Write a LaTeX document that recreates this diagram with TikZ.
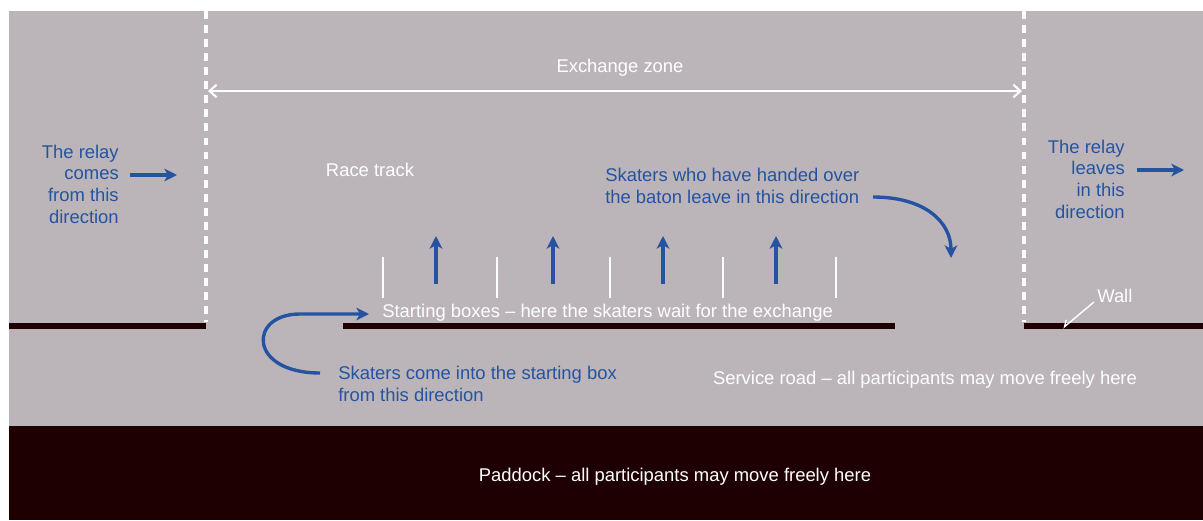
\documentclass[tikz,border=0pt]{standalone}
\usepackage{fontspec}
\setmainfont{Liberation Sans}
\usepackage{tikz}
\usetikzlibrary{positioning, arrows.meta, calc}
\usepackage{xcolor}
\definecolor{trackgray}{HTML}{BBB5B9}
\definecolor{paddockdark}{HTML}{1F0002}
\definecolor{relayblue}{HTML}{2553A2}

\begin{document}
\begin{tikzpicture}[
  x=0.025cm, y=-0.025cm,
  label_txt/.style={inner sep=0pt, font=\fontsize{13.1}{15.4}\selectfont},
  blue_txt/.style={label_txt, text=relayblue},
  white_txt/.style={label_txt, text=white},
  wall/.style={paddockdark, line width=3.6pt},
  zone_line/.style={white, line width=2.3pt, dash pattern=on 5.6pt off 4.4pt},
  box_line/.style={white, line width=1.9pt},
  arrow/.style={-{Stealth[length=9pt, width=9pt, inset=2.5pt]}, relayblue,
                line width=2.4pt},
]
  % Background
  \useasboundingbox (0,0) rectangle (1203,520);
  \fill[white] (0,0) rectangle (1203,520);
  \fill[trackgray] (9,11) rectangle (1203,426);
  \fill[paddockdark] (9,426) rectangle (1203,520);

  % Exchange zone limits
  \coordinate (zl_top) at (206,11);
  \coordinate (zl_bot) at (206,322);
  \coordinate (zr_top) at (1024,11);
  \coordinate (zr_bot) at (1024,322);
  \draw[zone_line] (zl_top) -- (zl_bot);
  \draw[zone_line] (zr_top) -- (zr_bot);
  \coordinate (zone_w) at (208,91);
  \coordinate (zone_e) at (1022,91);
  \draw[{Straight Barb[length=5pt, width=9pt]}-{Straight Barb[length=5pt, width=9pt]},
        white, line width=1.5pt] (zone_w) -- (zone_e);
  \node[white_txt] (zone) at (620,68) {Exchange zone};

  % Walls
  \coordinate (wl_a) at (9,326);
  \coordinate (wl_b) at (206,326);
  \coordinate (wm_a) at (343,326);
  \coordinate (wm_b) at (895,326);
  \coordinate (wr_a) at (1024,326);
  \coordinate (wr_b) at (1203,326);
  \draw[wall] (wl_a) -- (wl_b);
  \draw[wall] (wm_a) -- (wm_b);
  \draw[wall] (wr_a) -- (wr_b);

  % Relay in / out
  \node[blue_txt, align=right, anchor=east] (comes) at (119,184)
    {The relay\\comes\\from this\\direction};
  \coordinate (comes_a) at (130,175);
  \coordinate (comes_b) at (177,175);
  \draw[arrow] (comes_a) -- (comes_b);
  \node[blue_txt, align=right, anchor=east] (leaves) at (1125,179)
    {The relay\\leaves\\in this\\direction};
  \coordinate (leaves_a) at (1137,170);
  \coordinate (leaves_b) at (1184,170);
  \draw[arrow] (leaves_a) -- (leaves_b);

  % Race track
  \node[white_txt] (track) at (370,170) {Race track};

  % Starting boxes
  \draw[box_line] (383,257) -- (383,298);
  \draw[box_line] (497,257) -- (497,298);
  \draw[box_line] (610,257) -- (610,298);
  \draw[box_line] (723,257) -- (723,298);
  \draw[box_line] (836,257) -- (836,298);
  \draw[arrow] (436,284) -- (436,236);
  \draw[arrow] (553,284) -- (553,236);
  \draw[arrow] (663,284) -- (663,236);
  \draw[arrow] (776,284) -- (776,236);
  \node[white_txt, anchor=west] (boxes) at (382,313)
    {Starting boxes -- here the skaters wait for the exchange};

  % Skaters leaving
  \node[blue_txt, align=left, anchor=west] (handed) at (605,186)
    {Skaters who have handed over\\the baton leave in this direction};
  \coordinate (handed_a) at (873,197);
  \coordinate (handed_b) at (951,258);
  \draw[arrow] (handed_a) .. controls (925,197) and (951,222) .. (handed_b);

  % Skaters coming in
  \node[blue_txt, align=left, anchor=west] (comein) at (338,384)
    {Skaters come into the starting box\\from this direction};
  \coordinate (comein_a) at (320,373);
  \coordinate (comein_b) at (369,314);
  \draw[arrow] (comein_a) .. controls (248,373) and (248,314) .. (300,314)
    -- (comein_b);

  % Wall label
  \node[white_txt, anchor=west] (wall) at (1097,296) {Wall};
  \coordinate (wall_a) at (1094,302);
  \coordinate (wall_b) at (1063,328);
  \draw[-{Straight Barb[right, length=4pt, width=6pt]}, white, line width=1pt]
    (wall_a) -- (wall_b);

  % Service road and paddock
  \node[white_txt] (service) at (925,380)
    {Service road -- all participants may move freely here};
  \node[white_txt] (paddock) at (675,477)
    {Paddock -- all participants may move freely here};
\end{tikzpicture}
\end{document}
